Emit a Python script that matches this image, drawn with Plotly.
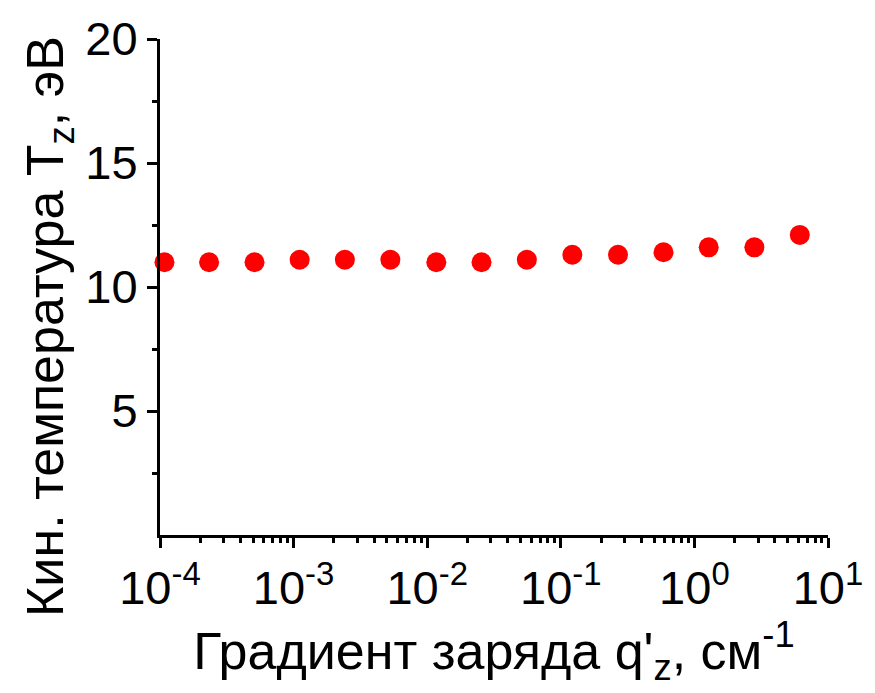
import plotly.graph_objects as go

# Charge gradient q'_z (cm^-1) and kinetic temperature T_z (eV)
grad_q = [1.08e-4, 2.33e-4, 5.1e-4, 1.11e-3, 2.42e-3, 5.3e-3, 1.17e-2, 2.55e-2,
          5.57e-2, 0.122, 0.268, 0.587, 1.28, 2.81, 6.15]
temp_z = [11.0, 11.0, 11.0, 11.1, 11.1, 11.1, 11.0, 11.0,
          11.1, 11.3, 11.3, 11.4, 11.6, 11.6, 12.1]

x_tick_vals = [1e-4, 1e-3, 1e-2, 1e-1, 1e0, 1e1]
x_tick_text = ["10<sup>-4</sup>", "10<sup>-3</sup>", "10<sup>-2</sup>",
               "10<sup>-1</sup>", "10<sup>0</sup>", "10<sup>1</sup>"]
y_tick_vals = [5, 10, 15, 20]
y_minor_vals = [2.5, 7.5, 12.5, 17.5]

x_minor_vals = [m * 10.0 ** e for e in range(-4, 1) for m in range(2, 10)]

FONT = "Liberation Sans, Arial, sans-serif"
TICK_SIZE = 47
TITLE_SIZE = 52

fig = go.Figure(
    go.Scatter(
        x=grad_q,
        y=temp_z,
        mode="markers",
        marker=dict(color="#ff0000", size=20, line=dict(width=0)),
        cliponaxis=False,
    )
)

fig.update_layout(
    width=875,
    height=693,
    margin=dict(l=160, r=43, t=38, b=158),
    paper_bgcolor="white",
    plot_bgcolor="white",
    showlegend=False,
    font=dict(family=FONT, size=TICK_SIZE, color="black"),
)

fig.update_xaxes(
    type="log",
    range=[-4, 1],
    tickvals=x_tick_vals,
    ticktext=x_tick_text,
    ticks="outside",
    ticklen=10,
    tickwidth=3,
    tickcolor="black",
    minor=dict(tickvals=x_minor_vals, ticks="outside", ticklen=5,
               tickwidth=3, tickcolor="black", showgrid=False),
    showline=True,
    linewidth=3,
    linecolor="black",
    showgrid=False,
    zeroline=False,
    tickfont=dict(size=TICK_SIZE),
    title=dict(text="Градиент заряда q'<sub>z</sub>, см<sup>-1</sup>",
               font=dict(size=TITLE_SIZE), standoff=6),
)

fig.update_yaxes(
    range=[0, 20],
    tickvals=y_tick_vals,
    ticks="outside",
    ticklen=10,
    tickwidth=3,
    tickcolor="black",
    minor=dict(tickvals=y_minor_vals, ticks="outside", ticklen=5,
               tickwidth=3, tickcolor="black", showgrid=False),
    showline=True,
    linewidth=3,
    linecolor="black",
    showgrid=False,
    zeroline=False,
    tickfont=dict(size=TICK_SIZE),
)

# Vertical axis title, set slightly below the middle of the axis
fig.add_annotation(
    text="Кин. температура T<sub>z</sub>, эВ",
    xref="paper", yref="paper",
    x=0, y=0.4195,
    xanchor="center", yanchor="middle",
    xshift=-111,
    textangle=-90,
    showarrow=False,
    font=dict(size=TITLE_SIZE, family=FONT, color="black"),
)

fig.write_html("out.html")
